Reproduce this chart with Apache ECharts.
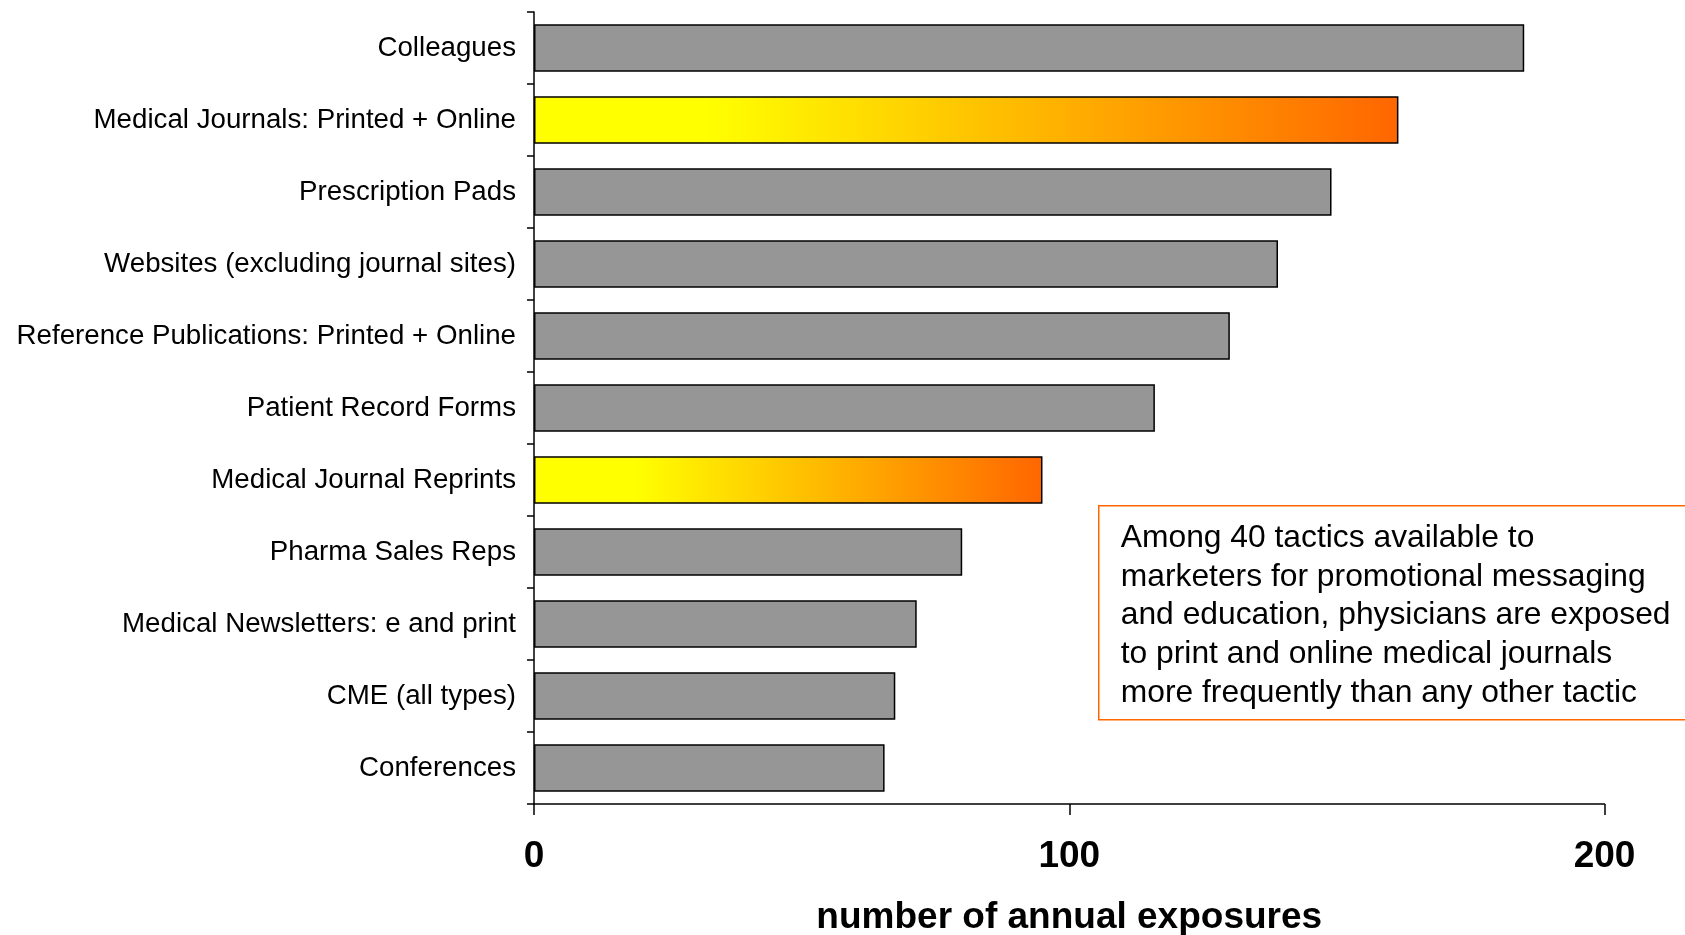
<!DOCTYPE html>
<html>
<head>
<meta charset="utf-8">
<title>Annual exposures by promotional tactic</title>
<script src="https://cdn.jsdelivr.net/npm/echarts@6/dist/echarts.min.js"></script>
<style>
  html, body { margin: 0; padding: 0; background: #ffffff; }
  #chart { width: 1685px; height: 935px; }
</style>
</head>
<body>
<div id="chart"></div>
<script>
// Tactics, top to bottom
const categories = [
  'Colleagues',
  'Medical Journals: Printed + Online',
  'Prescription Pads',
  'Websites (excluding journal sites)',
  'Reference Publications: Printed + Online',
  'Patient Record Forms',
  'Medical Journal Reprints',
  'Pharma Sales Reps',
  'Medical Newsletters: e and print',
  'CME (all types)',
  'Conferences'
];

// Number of annual exposures per tactic
const exposures = [185, 161.5, 149, 139, 130, 116, 95, 80, 71.5, 67.5, 65.5];

// Tactics drawn with the warm gradient
const highlighted = ['Medical Journals: Printed + Online', 'Medical Journal Reprints'];

// Value axis ticks
const xTicks = [0, 100, 200];

const noteLines = [
  'Among 40 tactics available to',
  'marketers for promotional messaging',
  'and education, physicians are exposed',
  'to print and online medical journals',
  'more frequently than any other tactic'
];

const FONT = 'Arial, "Liberation Sans", Helvetica, sans-serif';

const chart = echarts.init(document.getElementById('chart'), null, { renderer: 'canvas' });

const warmGradient = new echarts.graphic.LinearGradient(0, 0, 1, 0, [
  { offset: 0, color: '#FFFF00' },
  { offset: 0.2, color: '#FFFF00' },
  { offset: 1, color: '#FF6600' }
]);

const barData = categories.map((name, i) => ({
  value: exposures[i],
  itemStyle: highlighted.includes(name) ? { color: warmGradient } : {}
}));

chart.setOption({
  animation: false,
  backgroundColor: '#ffffff',
  grid: {
    left: 534, right: 80.5, top: 12, bottom: 131,
    containLabel: false,
    outerBoundsMode: 'none'
  },
  xAxis: {
    type: 'value',
    min: xTicks[0],
    max: xTicks[xTicks.length - 1],
    interval: xTicks[1] - xTicks[0],
    name: 'number of annual exposures',
    nameLocation: 'middle',
    nameGap: 95,
    nameTextStyle: { fontFamily: FONT, fontSize: 37, fontWeight: 'bold', color: '#000' },
    axisLine: { show: true, lineStyle: { color: '#000', width: 1.5 } },
    axisTick: { show: true, length: 11, lineStyle: { color: '#000', width: 1.5 } },
    axisLabel: { fontFamily: FONT, fontSize: 37, fontWeight: 'bold', color: '#000', margin: 34 },
    splitLine: { show: false }
  },
  yAxis: {
    type: 'category',
    data: categories,
    inverse: true,
    axisLine: { show: true, lineStyle: { color: '#000', width: 1.5 } },
    axisTick: { show: true, length: 7, lineStyle: { color: '#000', width: 1.5 } },
    axisLabel: { fontFamily: FONT, fontSize: 27.7, color: '#000', margin: 18 },
    splitLine: { show: false }
  },
  series: [{
    type: 'bar',
    data: barData,
    barCategoryGap: '34%',
    itemStyle: { color: '#969696', borderColor: '#000', borderWidth: 1.5 }
  }],
  graphic: [{
    type: 'group',
    left: 1098,
    top: 505,
    children: [
      {
        type: 'rect',
        shape: { x: 0, y: 0, width: 700, height: 214 },
        style: { fill: '#ffffff', stroke: '#FF6600', lineWidth: 1.5 }
      },
      {
        type: 'text',
        x: 22,
        y: 13,
        style: {
          text: noteLines.join('\n'),
          font: '31.8px ' + FONT,
          fill: '#000',
          lineHeight: 38.7
        }
      }
    ]
  }]
});
</script>
</body>
</html>
